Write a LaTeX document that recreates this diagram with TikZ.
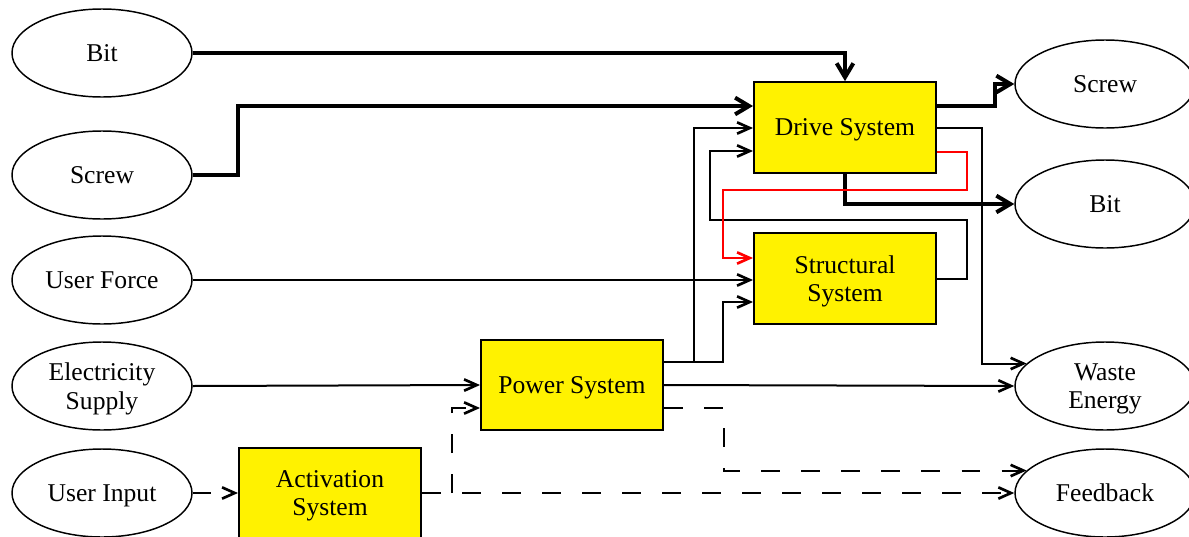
\documentclass[tikz,border=0pt]{standalone}
\usepackage{fontspec}
\setmainfont{Liberation Serif}
\usetikzlibrary{arrows.meta, positioning, calc, shapes}

\tikzset{
  ellip/.style={ellipse, draw, line width=1.1pt, minimum width=135pt, minimum height=66pt, inner sep=0pt, text depth=0pt, align=center, font=\fontsize{19.2}{21.5}\selectfont},
  sysbox/.style={rectangle, draw, line width=1.5pt, fill=yellow, minimum width=136.5pt, minimum height=68pt, inner sep=0pt, text depth=0pt, align=center, font=\fontsize{19.2}{21.5}\selectfont},
  flow/.style={line width=1.5pt, -{Straight Barb[length=9.5pt, width=8.5pt, line width=2pt]}},
  heavy/.style={line width=3pt, -{Straight Barb[length=10.5pt, width=12.5pt, line width=3pt]}},
  signal/.style={flow, dash pattern=on 14pt off 16pt},
}

\begin{document}
\begin{tikzpicture}[x=0.75pt, y=-0.75pt]
  \useasboundingbox (0,0) rectangle (1189,536);
  % inputs
  \node[ellip] (bitin)   at (102,53)  {Bit};
  \node[ellip] (screwin) at (102,175) {Screw};
  \node[ellip] (force)   at (102,280) {User Force};
  \node[ellip] (elec)    at (102,386) {Electricity\\Supply};
  \node[ellip] (input)   at (102,493) {User Input};
  % outputs
  \node[ellip] (screwout) at (1105,84)  {Screw};
  \node[ellip] (bitout)   at (1105,204) {Bit};
  \node[ellip] (waste)    at (1105,386) {Waste\\Energy};
  \node[ellip] (feedback) at (1105,493) {Feedback};
  % systems
  \node[sysbox] (drive)  at (845,127.5) {Drive System};
  \node[sysbox] (struct) at (845,278.5) {Structural\\System};
  \node[sysbox] (power)  at (572,385)   {Power System};
  \node[sysbox] (activ)  at (330,493)   {Activation\\System};
  \coordinate (pj) at (694,362);
  \coordinate (aj) at (452,493);

  % material flow
  \draw[heavy] (bitin.east) -| (drive.north);
  \draw[heavy] (screwin.east) -| (238,106) -- (drive.west |- 0,106);
  \draw[heavy] (drive.east |- 0,106) -- (995,106) |- (screwout.west);
  \draw[heavy] (drive.south) |- (bitout.west);
  % energy
  \draw[flow] (force.east) -- (force.east -| struct.west);
  \draw[flow] (elec.east) -- (power.west);
  \draw[flow] (power.east |- pj) -- (723,362) |- (struct.west |- 0,302);
  \draw[flow] (pj) |- (drive.west |- 0,128);
  \draw[flow] (power.east) -- (waste.west);
  \draw[flow] (drive.east |- 0,128) -- (982,128) |- (waste.164);
  \draw[flow] (struct.east) -| (967,220) -- (710,220) |- (drive.west |- 0,151);
  \draw[flow, red] (drive.east |- 0,152) -- (967,152) |- (723,190) |- (struct.west |- 0,258);
  % signals
  \draw[signal] (input.east) -- (activ.west);
  \draw[signal] (activ.east) -- (feedback.west);
  \draw[signal] (aj) |- (power.west |- 0,408);
  \draw[signal] (power.east |- 0,408) -- (724,408) |- (feedback.164);
\end{tikzpicture}
\end{document}
